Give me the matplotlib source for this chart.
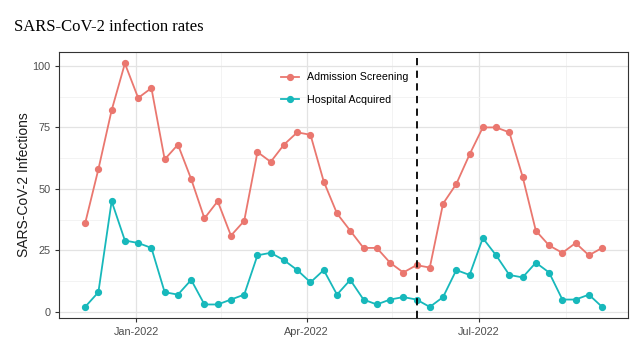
import numpy as np
import pandas as pd
import matplotlib.pyplot as plt
import matplotlib.dates as mdates

# weekly counts
weeks = pd.date_range('2021-12-05', periods=40, freq='7D')
admission = [36, 58, 82, 101, 87, 91, 62, 68, 54, 38,
             45, 31, 37, 65, 61, 68, 73, 72, 53, 40,
             33, 26, 26, 20, 16, 19, 18, 44, 52, 64,
             75, 75, 73, 55, 33, 27, 24, 28, 23, 26]
hospital = [2, 8, 45, 29, 28, 26, 8, 7, 13, 3,
            3, 5, 7, 23, 24, 21, 17, 12, 17, 7,
            13, 5, 3, 5, 6, 5, 2, 6, 17, 15,
            30, 23, 15, 14, 20, 16, 5, 5, 7, 2]
cutoff = pd.Timestamp('2022-05-29')
y_ticks = [0, 25, 50, 75, 100]
x_ticks = pd.to_datetime(['2022-01-01', '2022-04-01', '2022-07-01'])
x_minor = pd.to_datetime(['2022-02-15', '2022-05-16', '2022-08-16'])

red = '#EA776F'
teal = '#17B8BB'
sans = 'Liberation Sans'

fig = plt.figure(figsize=(6.34, 3.54), dpi=100)
fig.text(0.022, 0.913, 'SARS-CoV-2 infection rates', family='Liberation Serif',
         fontsize=12, va='baseline')

ax = fig.add_axes([0.0935, 0.1017, 0.8970, 0.7523])
ax.plot(weeks, admission, color=red, lw=1.3, marker='o', ms=4.2, label='Admission Screening')
ax.plot(weeks, hospital, color=teal, lw=1.3, marker='o', ms=4.2, label='Hospital Acquired')
ax.axvline(cutoff, color='black', lw=1.3, ls=(0, (4, 3)))

ax.set_yticks(y_ticks)
ax.set_yticks([12.5, 37.5, 62.5, 87.5], minor=True)
ax.set_xticks(x_ticks)
ax.set_xticks(x_minor, minor=True)
ax.xaxis.set_major_formatter(mdates.DateFormatter('%b-%Y'))
# limits after ticks so set_ticks cannot widen them
span = weeks[-1] - weeks[0]
ax.set_xlim(weeks[0] - span * 0.05, weeks[-1] + span * 0.05)
ax.set_ylim(-2.5, 105.8)

ax.grid(which='major', color='#E3E3E3', lw=0.9)
ax.grid(which='minor', color='#F1F1F1', lw=0.6)
ax.set_axisbelow(True)
ax.tick_params(which='major', length=3, color='#333333', labelsize=7.8, labelcolor='#4D4D4D')
ax.tick_params(which='minor', length=0)
for lab in ax.get_xticklabels() + ax.get_yticklabels():
    lab.set_family(sans)
for s in ax.spines.values():
    s.set_color('#333333')
    s.set_linewidth(0.8)

ax.set_ylabel('SARS-CoV-2 Infections', fontsize=10, color='#1A1A1A', family=sans)
ax.yaxis.set_label_coords(-0.05, 0.5)
ax.legend(loc='upper left', bbox_to_anchor=(0.373, 0.958), frameon=False,
          prop={'family': sans, 'size': 7.7}, handlelength=1.7, handletextpad=0.7,
          labelspacing=1.15)

fig.savefig('out.png', dpi=100)
